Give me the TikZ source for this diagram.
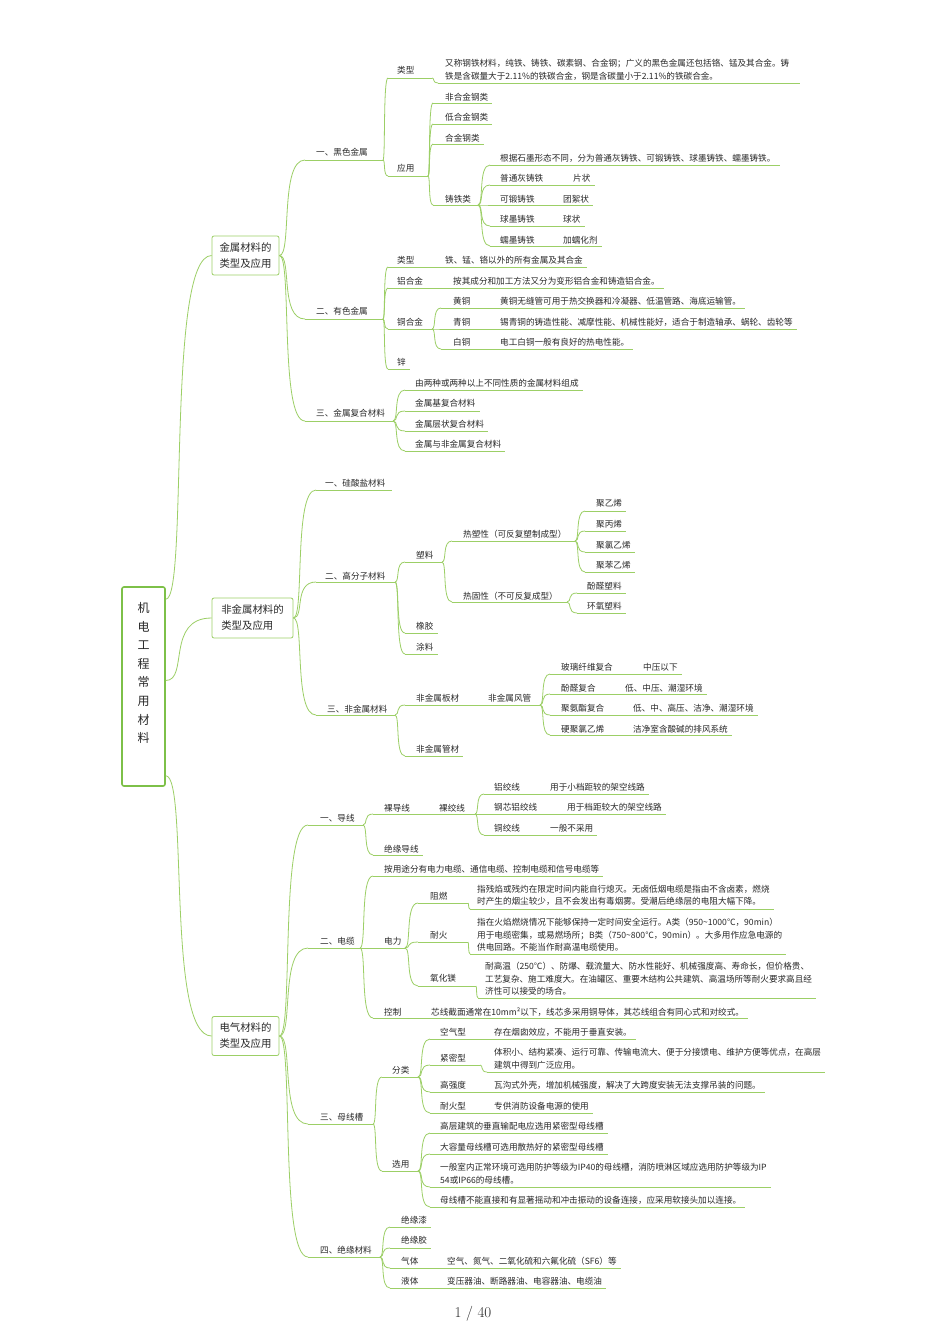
\documentclass[tikz,border=0pt]{standalone}
\usepackage{fontspec}
\newfontfamily\cjk{Noto Sans CJK SC}
\usetikzlibrary{calc}
\definecolor{lg}{RGB}{156,207,102}
\definecolor{cg}{RGB}{125,192,72}
\definecolor{tx}{RGB}{40,40,40}
\tikzset{
 mmtext/.style={font=\cjk\fontsize{8.6}{12.5}\selectfont, text=tx, inner sep=0pt, anchor=west, align=left},
 mmline/.style={draw=lg, line width=0.8pt},
 lonebox/.style={draw=lg, line width=0.8pt, rounded corners=2pt, inner sep=0pt, align=left, font=\cjk\fontsize{10.4}{16}\selectfont, text=tx},
 centbox/.style={draw=cg, line width=1.6pt, rounded corners=2pt, inner sep=0pt, minimum width=43pt, minimum height=199pt},
}
% name, xtext, ytext, xstart, xend (empty = auto), yunderline, text
\newcommand{\MMn}[7]{%
  \node[mmtext] (#1) at (#2,#3) {#7};
  \coordinate (#1-s) at (#4,#6);
  \if\relax\detokenize{#5}\relax
    \coordinate (#1-e) at ($(#1.east |- #1-s)+(4,0)$);
  \else
    \coordinate (#1-e) at (#5,#6);
  \fi
  \draw[mmline] (#1-s) -- (#1-e);
}
\newcommand{\MMl}[2]{%
  \draw[mmline] (#1-e) .. controls ($(#1-e)!0.5!(#1-e -| #2-s)$) and (#1-e |- #2-s) .. (#2-s);
}
\begin{document}
\begin{tikzpicture}[x=1pt,y=-1pt]
\fill[white] (0,0) rectangle (950,1344);
\useasboundingbox (0,0) rectangle (950,1344);

% central
\node[centbox] (C) at (143.5,686.5) {};
\node[font=\cjk\fontsize{12}{18.6}\selectfont, text=tx, align=center, inner sep=0pt] (Ct) at (143.5,673) {机\\电\\工\\程\\常\\用\\材\\料};
\coordinate (C1-e) at ($(C.north east)+(0,13)$);
\coordinate (C2-e) at ($(C.east)+(0,-6)$);
\coordinate (C3-e) at ($(C.south east)+(0,-11)$);

% level 1
\node[lonebox, minimum width=67pt, minimum height=39pt] (B1) at (245.5,255.5) {金属材料的\\类型及应用};
\node[lonebox, minimum width=81pt, minimum height=40pt] (B2) at (252.5,618) {非金属材料的\\类型及应用};
\node[lonebox, minimum width=67pt, minimum height=39pt] (B3) at (245.5,1036) {电气材料的\\类型及应用};
\foreach \b in {B1,B2,B3} {\coordinate (\b-s) at (\b.west); \coordinate (\b-e) at (\b.east);}
\MMl{C1}{B1}
\MMl{C2}{B2}
\MMl{C3}{B3}

% ===== section 1 =====
\MMn{a1}{316}{152}{305}{383}{160}{一、黑色金属}
\MMn{a11}{397}{70}{388}{432}{78}{类型}
\MMn{a111}{445}{70}{438}{800}{83}{又称钢铁材料，纯铁、铸铁、碳素钢、合金钢；广义的黑色金属还包括铬、锰及其合金。铸\\铁是含碳量大于2.11\%的铁碳合金，钢是含碳量小于2.11\%的铁碳合金。}
\MMn{a12}{397}{168}{388}{428}{176}{应用}
\MMn{a121}{445}{97}{433}{}{103}{非合金钢类}
\MMn{a122}{445}{117}{433}{}{124}{低合金钢类}
\MMn{a123}{445}{138}{433}{}{144}{合金钢类}
\MMn{a124}{445}{199}{433}{478}{205}{铸铁类}
\MMn{a1241}{500}{158}{490}{}{165}{根据石墨形态不同，分为普通灰铸铁、可锻铸铁、球墨铸铁、蠕墨铸铁。}
\MMn{a1242}{500}{178}{490}{565}{185}{普通灰铸铁}
\MMn{a12421}{573}{178}{565}{}{185}{片状}
\MMn{a1243}{500}{199}{490}{557}{205}{可锻铸铁}
\MMn{a12431}{563}{199}{557}{}{205}{团絮状}
\MMn{a1244}{500}{219}{490}{557}{226}{球墨铸铁}
\MMn{a12441}{563}{219}{557}{}{226}{球状}
\MMn{a1245}{500}{240}{490}{557}{246}{蠕墨铸铁}
\MMn{a12451}{563}{240}{557}{}{246}{加蠕化剂}
\MMl{B1}{a1}
\MMl{a1}{a11}\MMl{a11}{a111}
\MMl{a1}{a12}
\MMl{a12}{a121}\MMl{a12}{a122}\MMl{a12}{a123}\MMl{a12}{a124}
\MMl{a124}{a1241}\MMl{a124}{a1242}\MMl{a124}{a1243}\MMl{a124}{a1244}\MMl{a124}{a1245}
\MMl{a1242}{a12421}\MMl{a1243}{a12431}\MMl{a1244}{a12441}\MMl{a1245}{a12451}

\MMn{a2}{316}{311}{305}{383}{319}{二、有色金属}
\MMn{a21}{397}{260}{388}{438}{267}{类型}
\MMn{a211}{445}{260}{438}{}{267}{铁、锰、铬以外的所有金属及其合金}
\MMn{a22}{397}{281}{388}{446}{288}{铝合金}
\MMn{a221}{453}{281}{446}{}{288}{按其成分和加工方法又分为变形铝合金和铸造铝合金。}
\MMn{a23}{397}{322}{388}{432}{329}{铜合金}
\MMn{a231}{453}{301}{441}{492}{308}{黄铜}
\MMn{a2311}{500}{301}{492}{}{308}{黄铜无缝管可用于热交换器和冷凝器、低温管路、海底运输管。}
\MMn{a232}{453}{322}{441}{492}{329}{青铜}
\MMn{a2321}{500}{322}{492}{}{329}{锡青铜的铸造性能、减摩性能、机械性能好，适合于制造轴承、蜗轮、齿轮等}
\MMn{a233}{453}{342}{441}{492}{349}{白铜}
\MMn{a2331}{500}{342}{492}{}{349}{电工白铜一般有良好的热电性能。}
\MMn{a24}{397}{362}{388}{}{369}{锌}
\MMl{B1}{a2}
\MMl{a2}{a21}\MMl{a21}{a211}
\MMl{a2}{a22}\MMl{a22}{a221}
\MMl{a2}{a23}\MMl{a2}{a24}
\MMl{a23}{a231}\MMl{a231}{a2311}
\MMl{a23}{a232}\MMl{a232}{a2321}
\MMl{a23}{a233}\MMl{a233}{a2331}

\MMn{a3}{316}{413}{305}{393}{421}{三、金属复合材料}
\MMn{a31}{415}{383}{405}{}{390}{由两种或两种以上不同性质的金属材料组成}
\MMn{a32}{415}{403}{405}{}{411}{金属基复合材料}
\MMn{a33}{415}{424}{405}{}{431}{金属层状复合材料}
\MMn{a34}{415}{444}{405}{}{451}{金属与非金属复合材料}
\MMl{B1}{a3}
\MMl{a3}{a31}\MMl{a3}{a32}\MMl{a3}{a33}\MMl{a3}{a34}

% ===== section 2 =====
\MMn{b1}{325}{483}{316}{392}{490}{一、硅酸盐材料}
\MMn{b2}{325}{576}{316}{395}{582}{二、高分子材料}
\MMn{b21}{416}{555}{405}{442}{562}{塑料}
\MMn{b211}{463}{534}{452}{575}{541}{热塑性（可反复塑制成型）}
\MMn{b2111}{596}{503}{585}{}{511}{聚乙烯}
\MMn{b2112}{596}{524}{585}{}{531}{聚丙烯}
\MMn{b2113}{596}{545}{585}{}{552}{聚氯乙烯}
\MMn{b2114}{596}{565}{585}{}{572}{聚苯乙烯}
\MMn{b212}{463}{596}{452}{567}{602}{热固性（不可反复成型）}
\MMn{b2121}{587}{586}{577}{}{593}{酚醛塑料}
\MMn{b2122}{587}{606}{577}{}{613}{环氧塑料}
\MMn{b22}{416}{626}{405}{}{633}{橡胶}
\MMn{b23}{416}{647}{405}{}{654}{涂料}
\MMn{b3}{327}{709}{316}{395}{715}{三、非金属材料}
\MMn{b31}{416}{698}{405}{480}{705}{非金属板材}
\MMn{b311}{488}{698}{480}{540}{705}{非金属风管}
\MMn{b3111}{561}{667}{550}{636}{674}{玻璃纤维复合}
\MMn{b31111}{643}{667}{636}{}{674}{中压以下}
\MMn{b3112}{561}{688}{550}{618}{694}{酚醛复合}
\MMn{b31121}{625}{688}{618}{}{694}{低、中压、潮湿环境}
\MMn{b3113}{561}{708}{550}{626}{715}{聚氨酯复合}
\MMn{b31131}{633}{708}{626}{}{715}{低、中、高压、洁净、潮湿环境}
\MMn{b3114}{561}{729}{550}{626}{735}{硬聚氯乙烯}
\MMn{b31141}{633}{729}{626}{}{735}{洁净室含酸碱的排风系统}
\MMn{b32}{416}{749}{405}{}{756}{非金属管材}
\MMl{B2}{b1}\MMl{B2}{b2}\MMl{B2}{b3}
\MMl{b2}{b21}\MMl{b2}{b22}\MMl{b2}{b23}
\MMl{b21}{b211}\MMl{b21}{b212}
\MMl{b211}{b2111}\MMl{b211}{b2112}\MMl{b211}{b2113}\MMl{b211}{b2114}
\MMl{b212}{b2121}\MMl{b212}{b2122}
\MMl{b3}{b31}\MMl{b3}{b32}\MMl{b31}{b311}
\MMl{b311}{b3111}\MMl{b311}{b3112}\MMl{b311}{b3113}\MMl{b311}{b3114}
\MMl{b3111}{b31111}\MMl{b3112}{b31121}\MMl{b3113}{b31131}\MMl{b3114}{b31141}

% ===== section 3 =====
\MMn{c1}{320}{818}{308}{363}{825}{一、导线}
\MMn{c11}{384}{808}{373}{433}{814}{裸导线}
\MMn{c111}{439}{808}{433}{475}{814}{裸绞线}
\MMn{c1111}{494}{787}{484}{543}{794}{铝绞线}
\MMn{c11111}{550}{787}{543}{}{794}{用于小档距较的架空线路}
\MMn{c1112}{494}{807}{484}{560}{814}{钢芯铝绞线}
\MMn{c11121}{567}{807}{560}{}{814}{用于档距较大的架空线路}
\MMn{c1113}{494}{828}{484}{543}{835}{铜绞线}
\MMn{c11131}{550}{828}{543}{}{835}{一般不采用}
\MMn{c12}{384}{849}{373}{}{855}{绝缘导线}
\MMl{B3}{c1}\MMl{c1}{c11}\MMl{c11}{c111}\MMl{c1}{c12}
\MMl{c111}{c1111}\MMl{c111}{c1112}\MMl{c111}{c1113}
\MMl{c1111}{c11111}\MMl{c1112}{c11121}\MMl{c1113}{c11131}

\MMn{c2}{320}{941}{308}{360}{948}{二、电缆}
\MMn{c21}{384}{869}{373}{}{876}{按用途分有电力电缆、通信电缆、控制电缆和信号电缆等}
\MMn{c22}{384}{941}{373}{405}{948}{电力}
\MMn{c221}{430}{896}{418}{468}{903}{阻燃}
\MMn{c2211}{477}{895.5}{470}{}{909}{指残焰或残灼在限定时间内能自行熄灭。无卤低烟电缆是指由不含卤素，燃烧\\时产生的烟尘较少，且不会发出有毒烟雾。受潮后绝缘层的电阻大幅下降。}
\MMn{c222}{430}{935}{418}{468}{942}{耐火}
\MMn{c2221}{477}{935}{470}{}{954}{指在火焰燃烧情况下能够保持一定时间安全运行。A类（950\textasciitilde 1000℃，90min）\\用于电缆密集，或易燃场所；B类（750\textasciitilde 800℃，90min）。大多用作应急电源的\\供电回路。不能当作耐高温电缆使用。}
\MMn{c223}{430}{978}{418}{476}{986}{氧化镁}
\MMn{c2231}{485}{979}{478}{}{998}{耐高温（250℃）、防爆、载流量大、防水性能好、机械强度高、寿命长，但价格贵、\\工艺复杂、施工难度大。在油罐区、重要木结构公共建筑、高温场所等耐火要求高且经\\济性可以接受的场合。}
\MMn{c23}{384}{1012}{373}{423}{1018}{控制}
\MMn{c231}{431}{1012}{423}{}{1018}{芯线截面通常在10mm²以下，线芯多采用铜导体，其芯线组合有同心式和对绞式。}
\MMl{B3}{c2}\MMl{c2}{c21}\MMl{c2}{c22}\MMl{c2}{c23}
\MMl{c22}{c221}\MMl{c22}{c222}\MMl{c22}{c223}
\MMl{c221}{c2211}\MMl{c222}{c2221}\MMl{c223}{c2231}\MMl{c23}{c231}

\MMn{c3}{320}{1117}{308}{373}{1124}{三、母线槽}
\MMn{c31}{392}{1070}{382}{418}{1077}{分类}
\MMn{c311}{440}{1032}{430}{484}{1039}{空气型}
\MMn{c3111}{494}{1032}{484}{}{1039}{存在烟囱效应，不能用于垂直安装。}
\MMn{c312}{440}{1058}{430}{480}{1065}{紧密型}
\MMn{c3121}{494}{1058.5}{487}{}{1072}{体积小、结构紧凑、运行可靠、传输电流大、便于分接馈电、维护方便等优点，在高层\\建筑中得到广泛应用。}
\MMn{c313}{440}{1085}{430}{484}{1092}{高强度}
\MMn{c3131}{494}{1085}{484}{}{1092}{瓦沟式外壳，增加机械强度，解决了大跨度安装无法支撑吊装的问题。}
\MMn{c314}{440}{1106}{430}{484}{1113}{耐火型}
\MMn{c3141}{494}{1106}{484}{}{1113}{专供消防设备电源的使用}
\MMn{c32}{392}{1164}{382}{418}{1171}{选用}
\MMn{c321}{440}{1126}{430}{}{1133}{高层建筑的垂直输配电应选用紧密型母线槽}
\MMn{c322}{440}{1147}{430}{}{1154}{大容量母线槽可选用散热好的紧密型母线槽}
\MMn{c323}{440}{1173.5}{430}{}{1187}{一般室内正常环境可选用防护等级为IP40的母线槽，消防喷淋区域应选用防护等级为IP\\54或IP66的母线槽。}
\MMn{c324}{440}{1200}{430}{}{1207}{母线槽不能直接和有显著摇动和冲击振动的设备连接，应采用软接头加以连接。}
\MMl{B3}{c3}\MMl{c3}{c31}\MMl{c3}{c32}
\MMl{c31}{c311}\MMl{c31}{c312}\MMl{c31}{c313}\MMl{c31}{c314}
\MMl{c311}{c3111}\MMl{c312}{c3121}\MMl{c313}{c3131}\MMl{c314}{c3141}
\MMl{c32}{c321}\MMl{c32}{c322}\MMl{c32}{c323}\MMl{c32}{c324}

\MMn{c4}{320}{1250}{308}{380}{1257}{四、绝缘材料}
\MMn{c41}{401}{1220}{390}{}{1227}{绝缘漆}
\MMn{c42}{401}{1240}{390}{}{1248}{绝缘胶}
\MMn{c43}{401}{1261}{390}{440}{1268}{气体}
\MMn{c431}{447}{1261}{440}{}{1268}{空气、氮气、二氧化硫和六氟化硫（SF6）等}
\MMn{c44}{401}{1281}{390}{440}{1288}{液体}
\MMn{c441}{447}{1281}{440}{}{1288}{变压器油、断路器油、电容器油、电缆油}
\MMl{B3}{c4}
\MMl{c4}{c41}\MMl{c4}{c42}\MMl{c4}{c43}\MMl{c4}{c44}
\MMl{c43}{c431}\MMl{c44}{c441}

% page number
\node[font=\rmfamily\fontsize{15}{15}\selectfont, text=tx, inner sep=0pt] (pg) at (473,1314) {1 / 40};
\end{tikzpicture}
\end{document}
